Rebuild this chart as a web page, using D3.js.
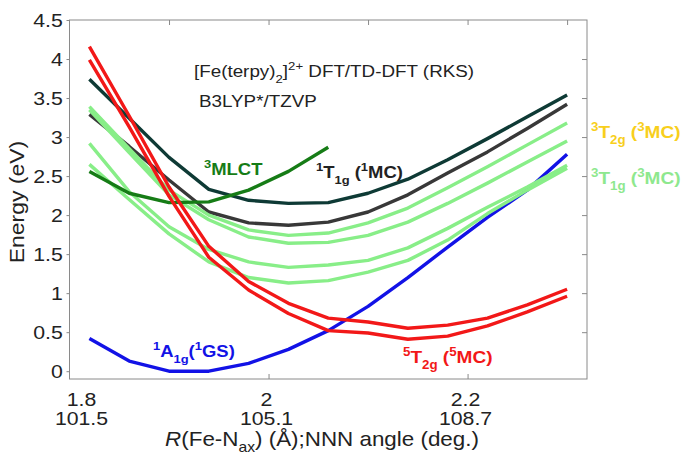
<!DOCTYPE html>
<html>
<head>
<meta charset="utf-8">
<script src="https://cdn.jsdelivr.net/npm/d3@7"></script>
<style>
  body { margin: 0; background: #fff; }
  svg { display: block; font-family: "Liberation Sans", Arial, sans-serif; }
</style>
</head>
<body>
<div id="chart"></div>
<script>
// R(Fe-Nax) grid (Å)
const rFeN = [1.82, 1.86, 1.90, 1.94, 1.98, 2.02, 2.06, 2.10, 2.14, 2.18, 2.22, 2.26, 2.30];

// energies (eV)
const e1A1g   = [0.42, 0.13, 0.00, 0.00, 0.10, 0.28, 0.52, 0.83, 1.20, 1.59, 1.97, 2.32, 2.78];
const e5T2gA  = [4.16, 3.27, 2.36, 1.60, 1.15, 0.87, 0.68, 0.63, 0.55, 0.59, 0.68, 0.85, 1.05];
const e5T2gB  = [3.99, 3.13, 2.24, 1.46, 1.04, 0.74, 0.52, 0.49, 0.41, 0.45, 0.58, 0.76, 0.96];
const e1T1gA  = [3.74, 3.24, 2.74, 2.33, 2.19, 2.15, 2.16, 2.28, 2.46, 2.71, 2.98, 3.26, 3.54];
const e1T1gB  = [3.29, 2.88, 2.45, 2.04, 1.90, 1.87, 1.91, 2.04, 2.26, 2.54, 2.81, 3.11, 3.42];
const e3MLCT  = [2.56, 2.28, 2.16, 2.17, 2.32, 2.56, 2.87];
const e3T2gA  = [3.39, 2.85, 2.32, 2.00, 1.81, 1.74, 1.77, 1.90, 2.09, 2.35, 2.62, 2.90, 3.18];
const e3T2gB  = [3.35, 2.80, 2.26, 1.94, 1.72, 1.64, 1.65, 1.74, 1.91, 2.15, 2.41, 2.68, 2.95];
const e3T1gA  = [2.92, 2.30, 1.85, 1.56, 1.40, 1.33, 1.36, 1.42, 1.58, 1.83, 2.10, 2.36, 2.64];
const e3T1gB  = [2.65, 2.20, 1.76, 1.40, 1.20, 1.13, 1.16, 1.27, 1.42, 1.68, 2.02, 2.32, 2.60];

// axis ticks
const yTicks = [0, 0.5, 1, 1.5, 2, 2.5, 3, 3.5, 4, 4.5];
const xTicks = [1.8, 2.0, 2.2];
const xTickR = ["1.8", "2", "2.2"];
const xTickAngle = ["101.5", "105.1", "108.7"];
const xTopTicks = [1.9, 2.0, 2.1, 2.2, 2.3];

const w = 688, h = 455;
const SX = 1.12; // figure text is slightly wide
const box = { left: 69.5, right: 587, top: 20, bottom: 379 };

const svg = d3.select("#chart").append("svg")
  .attr("width", w).attr("height", h)
  .attr("viewBox", [0, 0, w, h]);

const x = d3.scaleLinear().domain([1.8, 2.32]).range([box.left, box.right]);
const y = d3.scaleLinear().domain([-0.1, 4.5]).range([box.bottom, box.top]);

const axisColor = "#8a8a8a";

// frame
svg.append("rect")
  .attr("x", box.left).attr("y", box.top)
  .attr("width", box.right - box.left).attr("height", box.bottom - box.top)
  .attr("fill", "none").attr("stroke", axisColor).attr("stroke-width", 1);

// left axis (labels + small outer ticks)
const gy = svg.append("g")
  .attr("transform", `translate(${box.left},0)`)
  .call(d3.axisLeft(y).tickValues(yTicks).tickFormat(d => d).tickSize(3).tickPadding(3));
gy.select(".domain").remove();
gy.selectAll("line").attr("stroke", axisColor);
gy.selectAll("text")
  .attr("font-size", 19).attr("fill", "#222")
  .attr("font-family", "Liberation Sans, Arial, sans-serif")
  .attr("transform", `scale(${SX},1)`);

// right inner ticks
const gr = svg.append("g")
  .attr("transform", `translate(${box.right},0)`)
  .call(d3.axisLeft(y).tickValues(yTicks.filter(d => d > 0 && d < 4.5)).tickSize(5).tickFormat(""));
gr.select(".domain").remove();
gr.selectAll("line").attr("stroke", axisColor).attr("x2", -5);

// top inner ticks
const gt = svg.append("g")
  .attr("transform", `translate(0,${box.top})`)
  .call(d3.axisBottom(x).tickValues(xTopTicks).tickSize(5).tickFormat(""));
gt.select(".domain").remove();
gt.selectAll("line").attr("stroke", axisColor);

// bottom inner ticks
const gb = svg.append("g")
  .attr("transform", `translate(0,${box.bottom})`)
  .call(d3.axisTop(x).tickValues(xTicks.filter(d => d > 1.8)).tickSize(5).tickFormat(""));
gb.select(".domain").remove();
gb.selectAll("line").attr("stroke", axisColor);

// two-line x tick labels
xTicks.forEach((v, i) => {
  const px = x(v) + (i === 0 ? 12 : -2);
  const t = svg.append("text")
    .attr("transform", `translate(${px},0) scale(${SX},1)`)
    .attr("text-anchor", "middle").attr("font-size", 19).attr("fill", "#222");
  t.append("tspan").attr("x", 0).attr("y", 406).text(xTickR[i]);
  t.append("tspan").attr("x", 0).attr("y", 425).text(xTickAngle[i]);
});

// curves
const line = d3.line().x(d => x(d[0])).y(d => y(d[1]));
const series = [
  { v: e1A1g,  c: "#1212e6" },
  { v: e1T1gA, c: "#0e3a35" },
  { v: e1T1gB, c: "#383838" },
  { v: e3T2gA, c: "#88ee88" },
  { v: e3T2gB, c: "#88ee88" },
  { v: e3T1gA, c: "#88ee88" },
  { v: e3T1gB, c: "#88ee88" },
  { v: e3MLCT, c: "#167c16" },
  { v: e5T2gA, c: "#f21818" },
  { v: e5T2gB, c: "#f21818" }
];
svg.append("g")
  .selectAll("path")
  .data(series)
  .join("path")
  .attr("d", s => line(s.v.map((e, i) => [rFeN[i], e])))
  .attr("fill", "none")
  .attr("stroke", s => s.c)
  .attr("stroke-width", 3.4)
  .attr("stroke-linejoin", "round");

// rich text helper: parts = [[string, "n"|"sup"|"sub"], ...]
function rich(px, py, parts, size, color, weight) {
  const t = svg.append("text")
    .attr("transform", `translate(${px},${py}) scale(${SX},1)`)
    .attr("font-size", size).attr("fill", color)
    .attr("font-weight", weight || "normal");
  let shift = 0;
  parts.forEach(([s, k]) => {
    const target = k === "sup" ? -0.42 * size : k === "sub" ? 0.38 * size : 0;
    t.append("tspan")
      .attr("dy", target - shift)
      .attr("font-size", k === "n" ? size : size * 0.7)
      .text(s);
    shift = target;
  });
  return t;
}

rich(194, 77, [["[Fe(terpy)", "n"], ["2", "sub"], ["]", "n"], ["2+", "sup"], [" DFT/TD-DFT (RKS)", "n"]], 16.8, "#222");
rich(199, 107, [["B3LYP*/TZVP", "n"]], 16.8, "#222");
rich(204, 175, [["3", "sup"], ["MLCT", "n"]], 16.5, "#167c16", "bold");
rich(316, 178, [["1", "sup"], ["T", "n"], ["1g", "sub"], [" (", "n"], ["1", "sup"], ["MC)", "n"]], 16.5, "#222", "bold");
rich(591, 138, [["3", "sup"], ["T", "n"], ["2g", "sub"], [" (", "n"], ["3", "sup"], ["MC)", "n"]], 17, "#f8cf1c", "bold");
rich(591, 184, [["3", "sup"], ["T", "n"], ["1g", "sub"], [" (", "n"], ["3", "sup"], ["MC)", "n"]], 17, "#8ee88e", "bold");
rich(153, 357, [["1", "sup"], ["A", "n"], ["1g", "sub"], ["(", "n"], ["1", "sup"], ["GS)", "n"]], 16.5, "#1212e6", "bold");
rich(403, 363, [["5", "sup"], ["T", "n"], ["2g", "sub"], [" (", "n"], ["5", "sup"], ["MC)", "n"]], 17, "#f21818", "bold");

// axis titles
svg.append("text")
  .attr("transform", `translate(24,202) rotate(-90) scale(${SX},1)`)
  .attr("text-anchor", "middle").attr("font-size", 20.5).attr("fill", "#222")
  .text("Energy (eV)");

const xl = svg.append("text")
  .attr("transform", `translate(322,446) scale(${SX},1)`)
  .attr("text-anchor", "middle").attr("font-size", 20).attr("fill", "#222");
xl.append("tspan").attr("font-style", "italic").text("R");
xl.append("tspan").text("(Fe-N");
xl.append("tspan").attr("font-size", 14).attr("dy", 6).text("ax");
xl.append("tspan").attr("dy", -6).text(") (Å);NNN angle (deg.)");
</script>
</body>
</html>
